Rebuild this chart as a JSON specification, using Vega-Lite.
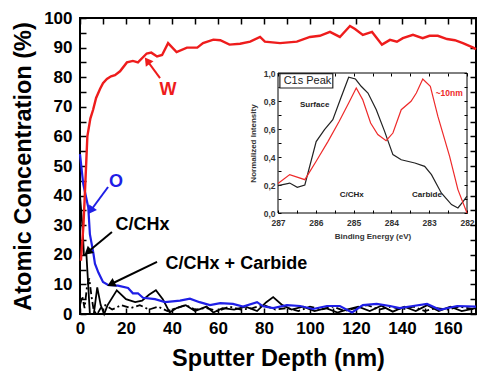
{
  "$schema": "https://vega.github.io/schema/vega-lite/v6.json",
  "width": 396,
  "height": 296,
  "autosize": "none",
  "padding": {"left": 80, "top": 18, "right": 1, "bottom": 58},
  "background": "white",
  "config": {
    "font": "Liberation Sans",
    "view": {"stroke": "black", "strokeWidth": 2},
    "axis": {"grid": false, "domain": false, "tickColor": "black", "labelColor": "black", "titleColor": "black"}
  },
  "datasets": {
    "profile": [
      {"series": "W", "depth": 0.4, "value": 18}, {"series": "W", "depth": 1.5, "value": 30}, {"series": "W", "depth": 2.2, "value": 42},
      {"series": "W", "depth": 3.2, "value": 60}, {"series": "W", "depth": 4.5, "value": 66}, {"series": "W", "depth": 5.7, "value": 69},
      {"series": "W", "depth": 7, "value": 73}, {"series": "W", "depth": 8.7, "value": 76}, {"series": "W", "depth": 10, "value": 78},
      {"series": "W", "depth": 11.7, "value": 79.4}, {"series": "W", "depth": 13.5, "value": 80.3}, {"series": "W", "depth": 15.2, "value": 80.7},
      {"series": "W", "depth": 17.4, "value": 82}, {"series": "W", "depth": 20.4, "value": 85}, {"series": "W", "depth": 23, "value": 85.5},
      {"series": "W", "depth": 25.2, "value": 85}, {"series": "W", "depth": 29, "value": 88}, {"series": "W", "depth": 31, "value": 88.3},
      {"series": "W", "depth": 33.5, "value": 87}, {"series": "W", "depth": 35.7, "value": 87.5}, {"series": "W", "depth": 38.3, "value": 91.5},
      {"series": "W", "depth": 42, "value": 88.5}, {"series": "W", "depth": 46.5, "value": 90}, {"series": "W", "depth": 51, "value": 90},
      {"series": "W", "depth": 53.5, "value": 91.5}, {"series": "W", "depth": 58, "value": 92.7}, {"series": "W", "depth": 61, "value": 92.5},
      {"series": "W", "depth": 65, "value": 91}, {"series": "W", "depth": 69.6, "value": 91.3}, {"series": "W", "depth": 74, "value": 92},
      {"series": "W", "depth": 78.3, "value": 93.6}, {"series": "W", "depth": 80.4, "value": 92}, {"series": "W", "depth": 87, "value": 91.5},
      {"series": "W", "depth": 94.3, "value": 92}, {"series": "W", "depth": 100, "value": 93.6}, {"series": "W", "depth": 104.3, "value": 94},
      {"series": "W", "depth": 108.7, "value": 95.3}, {"series": "W", "depth": 113, "value": 93.6}, {"series": "W", "depth": 117.4, "value": 97.3},
      {"series": "W", "depth": 119.6, "value": 96.3}, {"series": "W", "depth": 123, "value": 94.3}, {"series": "W", "depth": 127, "value": 95.3},
      {"series": "W", "depth": 131.3, "value": 91}, {"series": "W", "depth": 134.8, "value": 92.6}, {"series": "W", "depth": 137.8, "value": 92},
      {"series": "W", "depth": 140.4, "value": 93.2}, {"series": "W", "depth": 144.8, "value": 94.3}, {"series": "W", "depth": 149, "value": 93.2},
      {"series": "W", "depth": 152, "value": 94}, {"series": "W", "depth": 155.6, "value": 94}, {"series": "W", "depth": 159.6, "value": 92.9},
      {"series": "W", "depth": 163, "value": 92.5}, {"series": "W", "depth": 166.5, "value": 91.5}, {"series": "W", "depth": 171, "value": 90},
      {"series": "W", "depth": 172.2, "value": 89.5},

      {"series": "O", "depth": 0, "value": 54}, {"series": "O", "depth": 1.4, "value": 44}, {"series": "O", "depth": 3.6, "value": 36},
      {"series": "O", "depth": 4.3, "value": 27}, {"series": "O", "depth": 5.8, "value": 20.6}, {"series": "O", "depth": 6.5, "value": 17},
      {"series": "O", "depth": 8, "value": 14}, {"series": "O", "depth": 10, "value": 10.8}, {"series": "O", "depth": 12.2, "value": 9.8},
      {"series": "O", "depth": 16.5, "value": 9.6}, {"series": "O", "depth": 20.9, "value": 8.8}, {"series": "O", "depth": 23, "value": 7},
      {"series": "O", "depth": 25.2, "value": 7}, {"series": "O", "depth": 27.4, "value": 5.5}, {"series": "O", "depth": 32.6, "value": 5},
      {"series": "O", "depth": 37, "value": 4}, {"series": "O", "depth": 43.5, "value": 4.5}, {"series": "O", "depth": 47.8, "value": 5.2},
      {"series": "O", "depth": 52, "value": 4}, {"series": "O", "depth": 56.5, "value": 3}, {"series": "O", "depth": 61, "value": 3.7},
      {"series": "O", "depth": 66.5, "value": 3.4}, {"series": "O", "depth": 70.9, "value": 2.5}, {"series": "O", "depth": 77, "value": 4},
      {"series": "O", "depth": 79.6, "value": 2.6}, {"series": "O", "depth": 84, "value": 2}, {"series": "O", "depth": 90, "value": 3},
      {"series": "O", "depth": 95.7, "value": 2.7}, {"series": "O", "depth": 101.3, "value": 1.7}, {"series": "O", "depth": 107.4, "value": 2.7},
      {"series": "O", "depth": 113, "value": 2.7}, {"series": "O", "depth": 118.3, "value": 0.5}, {"series": "O", "depth": 123, "value": 3},
      {"series": "O", "depth": 129, "value": 3.4}, {"series": "O", "depth": 134.8, "value": 2.7}, {"series": "O", "depth": 139, "value": 2},
      {"series": "O", "depth": 144.8, "value": 2.7}, {"series": "O", "depth": 150.9, "value": 3.4}, {"series": "O", "depth": 156.5, "value": 1.4},
      {"series": "O", "depth": 164, "value": 2.7}, {"series": "O", "depth": 172.2, "value": 2.5},

      {"series": "C/CHx", "depth": 0, "value": 40}, {"series": "C/CHx", "depth": 1.2, "value": 28}, {"series": "C/CHx", "depth": 1.7, "value": 20},
      {"series": "C/CHx", "depth": 2.8, "value": 20}, {"series": "C/CHx", "depth": 4.3, "value": 0}, {"series": "C/CHx", "depth": 6, "value": 0},
      {"series": "C/CHx", "depth": 7.5, "value": 9}, {"series": "C/CHx", "depth": 9, "value": 3}, {"series": "C/CHx", "depth": 10.5, "value": 0},
      {"series": "C/CHx", "depth": 12, "value": 3}, {"series": "C/CHx", "depth": 16, "value": 8}, {"series": "C/CHx", "depth": 20, "value": 5},
      {"series": "C/CHx", "depth": 24, "value": 4}, {"series": "C/CHx", "depth": 27, "value": 4.5}, {"series": "C/CHx", "depth": 30, "value": 6.5},
      {"series": "C/CHx", "depth": 33, "value": 8}, {"series": "C/CHx", "depth": 36, "value": 5}, {"series": "C/CHx", "depth": 39, "value": 0.5},
      {"series": "C/CHx", "depth": 42, "value": 2}, {"series": "C/CHx", "depth": 46, "value": 3}, {"series": "C/CHx", "depth": 50, "value": 1},
      {"series": "C/CHx", "depth": 55, "value": 2.5}, {"series": "C/CHx", "depth": 58, "value": 0.5}, {"series": "C/CHx", "depth": 62, "value": 2},
      {"series": "C/CHx", "depth": 67, "value": 1.5}, {"series": "C/CHx", "depth": 72, "value": 2.5}, {"series": "C/CHx", "depth": 77, "value": 1},
      {"series": "C/CHx", "depth": 81, "value": 4}, {"series": "C/CHx", "depth": 84, "value": 5.7}, {"series": "C/CHx", "depth": 88, "value": 3},
      {"series": "C/CHx", "depth": 92, "value": 1.5}, {"series": "C/CHx", "depth": 97, "value": 2.5}, {"series": "C/CHx", "depth": 102, "value": 1},
      {"series": "C/CHx", "depth": 107, "value": 2}, {"series": "C/CHx", "depth": 112, "value": 0.5}, {"series": "C/CHx", "depth": 116, "value": 1.5},
      {"series": "C/CHx", "depth": 121, "value": 2.5}, {"series": "C/CHx", "depth": 126, "value": 1}, {"series": "C/CHx", "depth": 131, "value": 2.8},
      {"series": "C/CHx", "depth": 136, "value": 0.8}, {"series": "C/CHx", "depth": 141, "value": 2.5}, {"series": "C/CHx", "depth": 146, "value": 1},
      {"series": "C/CHx", "depth": 151, "value": 3}, {"series": "C/CHx", "depth": 156, "value": 1}, {"series": "C/CHx", "depth": 161, "value": 2.5},
      {"series": "C/CHx", "depth": 166, "value": 1}, {"series": "C/CHx", "depth": 172.2, "value": 2},

      {"series": "C/CHx + Carbide", "depth": 0, "value": 3}, {"series": "C/CHx + Carbide", "depth": 1, "value": 6}, {"series": "C/CHx + Carbide", "depth": 2, "value": 2},
      {"series": "C/CHx + Carbide", "depth": 3, "value": 9}, {"series": "C/CHx + Carbide", "depth": 4, "value": 12}, {"series": "C/CHx + Carbide", "depth": 5, "value": 6},
      {"series": "C/CHx + Carbide", "depth": 6, "value": 1}, {"series": "C/CHx + Carbide", "depth": 7.5, "value": 0}, {"series": "C/CHx + Carbide", "depth": 9, "value": 2},
      {"series": "C/CHx + Carbide", "depth": 11, "value": 3}, {"series": "C/CHx + Carbide", "depth": 14, "value": 1.5}, {"series": "C/CHx + Carbide", "depth": 18, "value": 3},
      {"series": "C/CHx + Carbide", "depth": 22, "value": 2}, {"series": "C/CHx + Carbide", "depth": 26, "value": 3}, {"series": "C/CHx + Carbide", "depth": 30, "value": 1.5},
      {"series": "C/CHx + Carbide", "depth": 34, "value": 2.5}, {"series": "C/CHx + Carbide", "depth": 38, "value": 1}, {"series": "C/CHx + Carbide", "depth": 42, "value": 2},
      {"series": "C/CHx + Carbide", "depth": 46, "value": 3}, {"series": "C/CHx + Carbide", "depth": 50, "value": 1.5}, {"series": "C/CHx + Carbide", "depth": 55, "value": 2},
      {"series": "C/CHx + Carbide", "depth": 60, "value": 1}, {"series": "C/CHx + Carbide", "depth": 65, "value": 2.5}, {"series": "C/CHx + Carbide", "depth": 70, "value": 1.5},
      {"series": "C/CHx + Carbide", "depth": 75, "value": 2}, {"series": "C/CHx + Carbide", "depth": 80, "value": 3}, {"series": "C/CHx + Carbide", "depth": 85, "value": 1.5},
      {"series": "C/CHx + Carbide", "depth": 90, "value": 2}, {"series": "C/CHx + Carbide", "depth": 95, "value": 1}, {"series": "C/CHx + Carbide", "depth": 100, "value": 2.5},
      {"series": "C/CHx + Carbide", "depth": 105, "value": 1.5}, {"series": "C/CHx + Carbide", "depth": 110, "value": 2.5}, {"series": "C/CHx + Carbide", "depth": 115, "value": 1},
      {"series": "C/CHx + Carbide", "depth": 120, "value": 2}, {"series": "C/CHx + Carbide", "depth": 125, "value": 3}, {"series": "C/CHx + Carbide", "depth": 130, "value": 1.5},
      {"series": "C/CHx + Carbide", "depth": 135, "value": 2.5}, {"series": "C/CHx + Carbide", "depth": 140, "value": 1.5}, {"series": "C/CHx + Carbide", "depth": 145, "value": 2.5},
      {"series": "C/CHx + Carbide", "depth": 150, "value": 1}, {"series": "C/CHx + Carbide", "depth": 155, "value": 2}, {"series": "C/CHx + Carbide", "depth": 160, "value": 1.5},
      {"series": "C/CHx + Carbide", "depth": 165, "value": 2.5}, {"series": "C/CHx + Carbide", "depth": 172.2, "value": 1.5}
    ],
    "profile_notes": [
      {"label": "W", "depth": 38.3, "value": 75.7},
      {"label": "O", "depth": 15.7, "value": 44.6},
      {"label": "C/CHx", "depth": 27.2, "value": 30},
      {"label": "C/CHx + Carbide", "depth": 68, "value": 16.9}
    ],
    "arrows": [
      {"label": "W", "depth": 34.8, "value": 79.7, "tip_depth": 29.6, "tip_value": 85.2},
      {"label": "O", "depth": 12.2, "value": 42.9, "tip_depth": 5, "tip_value": 35.3},
      {"label": "C/CHx", "depth": 13.9, "value": 27.7, "tip_depth": 3.8, "tip_value": 21.2},
      {"label": "C/CHx + Carbide", "depth": 33.5, "value": 17.6, "tip_depth": 14, "tip_value": 10.3}
    ],
    "xps": [
      {"spectrum": "Surface", "energy": 287, "intensity": 0.195}, {"spectrum": "Surface", "energy": 286.69, "intensity": 0.214},
      {"spectrum": "Surface", "energy": 286.49, "intensity": 0.183}, {"spectrum": "Surface", "energy": 286.29, "intensity": 0.2},
      {"spectrum": "Surface", "energy": 285.99, "intensity": 0.51}, {"spectrum": "Surface", "energy": 285.77, "intensity": 0.595},
      {"spectrum": "Surface", "energy": 285.55, "intensity": 0.667}, {"spectrum": "Surface", "energy": 285.34, "intensity": 0.82},
      {"spectrum": "Surface", "energy": 285.13, "intensity": 0.97}, {"spectrum": "Surface", "energy": 284.95, "intensity": 0.957},
      {"spectrum": "Surface", "energy": 284.8, "intensity": 0.905}, {"spectrum": "Surface", "energy": 284.62, "intensity": 0.857},
      {"spectrum": "Surface", "energy": 284.4, "intensity": 0.738}, {"spectrum": "Surface", "energy": 284.18, "intensity": 0.583},
      {"spectrum": "Surface", "energy": 283.96, "intensity": 0.417}, {"spectrum": "Surface", "energy": 283.74, "intensity": 0.38},
      {"spectrum": "Surface", "energy": 283.38, "intensity": 0.357}, {"spectrum": "Surface", "energy": 283.12, "intensity": 0.333},
      {"spectrum": "Surface", "energy": 282.94, "intensity": 0.274}, {"spectrum": "Surface", "energy": 282.68, "intensity": 0.143},
      {"spectrum": "Surface", "energy": 282.41, "intensity": 0.06}, {"spectrum": "Surface", "energy": 282.24, "intensity": 0.036},
      {"spectrum": "Surface", "energy": 282.1, "intensity": 0.083}, {"spectrum": "Surface", "energy": 282, "intensity": 0.12},

      {"spectrum": "~10nm", "energy": 287, "intensity": 0.21}, {"spectrum": "~10nm", "energy": 286.69, "intensity": 0.274},
      {"spectrum": "~10nm", "energy": 286.29, "intensity": 0.238}, {"spectrum": "~10nm", "energy": 285.99, "intensity": 0.37},
      {"spectrum": "~10nm", "energy": 285.68, "intensity": 0.51}, {"spectrum": "~10nm", "energy": 285.38, "intensity": 0.655},
      {"spectrum": "~10nm", "energy": 285.13, "intensity": 0.786}, {"spectrum": "~10nm", "energy": 284.93, "intensity": 0.893},
      {"spectrum": "~10nm", "energy": 284.76, "intensity": 0.81}, {"spectrum": "~10nm", "energy": 284.55, "intensity": 0.643},
      {"spectrum": "~10nm", "energy": 284.36, "intensity": 0.56}, {"spectrum": "~10nm", "energy": 284.14, "intensity": 0.517},
      {"spectrum": "~10nm", "energy": 283.96, "intensity": 0.571}, {"spectrum": "~10nm", "energy": 283.74, "intensity": 0.738},
      {"spectrum": "~10nm", "energy": 283.48, "intensity": 0.798}, {"spectrum": "~10nm", "energy": 283.34, "intensity": 0.857},
      {"spectrum": "~10nm", "energy": 283.17, "intensity": 0.957}, {"spectrum": "~10nm", "energy": 282.97, "intensity": 0.905},
      {"spectrum": "~10nm", "energy": 282.77, "intensity": 0.69}, {"spectrum": "~10nm", "energy": 282.46, "intensity": 0.405},
      {"spectrum": "~10nm", "energy": 282.24, "intensity": 0.167}, {"spectrum": "~10nm", "energy": 282, "intensity": 0}
    ],
    "xps_notes": [
      {"label": "Surface", "energy": 286.03, "intensity": 0.77},
      {"label": "~10nm", "energy": 282.47, "intensity": 0.857},
      {"label": "C/CHx", "energy": 285.05, "intensity": 0.13},
      {"label": "Carbide", "energy": 283.06, "intensity": 0.13},
      {"label": "C1s Peak", "energy": 286.22, "intensity": 0.945}
    ],
    "inset_frame": [
      {"box": "panel", "e1": 287, "e2": 282, "i1": 0, "i2": 1},
      {"box": "title", "e1": 286.95, "e2": 285.55, "i1": 0.893, "i2": 0.995}
    ]
  },
  "layer": [
    {
      "layer": [
        {
          "data": {"name": "profile"},
          "transform": [{"filter": "datum.series === 'C/CHx + Carbide'"}],
          "mark": {"type": "line", "color": "black", "strokeWidth": 1.8, "strokeDash": [7, 3, 2, 3]},
          "encoding": {
            "x": {"field": "depth", "type": "quantitative", "scale": {"domain": [0, 172.2], "nice": false, "zero": false}, "axis": null},
            "y": {"field": "value", "type": "quantitative", "scale": {"domain": [0, 100], "nice": false, "zero": false}, "axis": null}
          }
        },
        {
          "data": {"name": "profile"},
          "transform": [{"filter": "datum.series === 'C/CHx'"}],
          "mark": {"type": "line", "color": "black", "strokeWidth": 1.8},
          "encoding": {
            "x": {"field": "depth", "type": "quantitative", "scale": {"domain": [0, 172.2], "nice": false, "zero": false}, "axis": null},
            "y": {"field": "value", "type": "quantitative", "scale": {"domain": [0, 100], "nice": false, "zero": false}, "axis": null}
          }
        },
        {
          "data": {"name": "profile"},
          "transform": [{"filter": "datum.series === 'O'"}],
          "mark": {"type": "line", "color": "#1f1fe6", "strokeWidth": 2.2},
          "encoding": {
            "x": {"field": "depth", "type": "quantitative", "scale": {"domain": [0, 172.2], "nice": false, "zero": false},
              "axis": {"orient": "top", "values": [0, 10, 20, 30, 40, 50, 60, 70, 80, 90, 100, 110, 120, 130, 140, 150, 160, 170], "labels": false, "title": null, "tickSize": -6, "tickWidth": 1.5}},
            "y": {"field": "value", "type": "quantitative", "scale": {"domain": [0, 100], "nice": false, "zero": false},
              "axis": {"orient": "right", "values": [0, 5, 10, 15, 20, 25, 30, 35, 40, 45, 50, 55, 60, 65, 70, 75, 80, 85, 90, 95, 100], "labels": false, "title": null, "tickSize": -6, "tickWidth": 1.5}}
          }
        },
        {
          "data": {"name": "profile"},
          "transform": [{"filter": "datum.series === 'W'"}],
          "mark": {"type": "line", "color": "#ee1c1c", "strokeWidth": 2.4},
          "encoding": {
            "x": {"field": "depth", "type": "quantitative", "scale": {"domain": [0, 172.2], "nice": false, "zero": false},
              "axis": {"orient": "bottom", "values": [0, 10, 20, 30, 40, 50, 60, 70, 80, 90, 100, 110, 120, 130, 140, 150, 160, 170],
                "labelExpr": "datum.value % 20 === 0 ? datum.label : ''", "tickSize": -6, "tickWidth": 1.5,
                "labelFontSize": 17, "labelFontWeight": "bold", "labelPadding": 12, "labelFlush": false, "labelOverlap": false,
                "title": "Sputter Depth (nm)", "titleFontSize": 23.5, "titleFontWeight": "bold", "titlePadding": 10}},
            "y": {"field": "value", "type": "quantitative", "scale": {"domain": [0, 100], "nice": false, "zero": false},
              "axis": {"orient": "left", "values": [0, 5, 10, 15, 20, 25, 30, 35, 40, 45, 50, 55, 60, 65, 70, 75, 80, 85, 90, 95, 100],
                "labelExpr": "datum.value % 10 === 0 ? datum.label : ''", "tickSize": -6, "tickWidth": 1.5,
                "labelFontSize": 17, "labelFontWeight": "bold", "labelPadding": 14, "labelFlush": false, "labelOverlap": false,
                "title": "Atomic Concentration (%)", "titleFontSize": 23.5, "titleFontWeight": "bold", "titlePadding": 8}}
          }
        },
        {
          "data": {"name": "arrows"},
          "mark": {"type": "rule", "strokeWidth": 2},
          "encoding": {
            "x": {"field": "depth", "type": "quantitative", "axis": null},
            "y": {"field": "value", "type": "quantitative", "axis": null},
            "x2": {"field": "tip_depth"},
            "y2": {"field": "tip_value"},
            "color": {"field": "label", "type": "nominal", "legend": null,
              "scale": {"domain": ["W", "O", "C/CHx", "C/CHx + Carbide"], "range": ["#ee1c1c", "#1f1fe6", "black", "black"]}}
          }
        },
        {
          "data": {"name": "arrows"},
          "transform": [{"filter": "datum.label === 'W'"}],
          "mark": {"type": "point", "shape": "triangle", "filled": true, "opacity": 1, "size": 90, "angle": 324},
          "encoding": {
            "x": {"field": "tip_depth", "type": "quantitative", "axis": null},
            "y": {"field": "tip_value", "type": "quantitative", "axis": null},
            "color": {"field": "label", "type": "nominal", "legend": null}
          }
        },
        {
          "data": {"name": "arrows"},
          "transform": [{"filter": "datum.label === 'O'"}],
          "mark": {"type": "point", "shape": "triangle", "filled": true, "opacity": 1, "size": 90, "angle": 216},
          "encoding": {
            "x": {"field": "tip_depth", "type": "quantitative", "axis": null},
            "y": {"field": "tip_value", "type": "quantitative", "axis": null},
            "color": {"field": "label", "type": "nominal", "legend": null}
          }
        },
        {
          "data": {"name": "arrows"},
          "transform": [{"filter": "datum.label === 'C/CHx'"}],
          "mark": {"type": "point", "shape": "triangle", "filled": true, "opacity": 1, "size": 90, "angle": 230},
          "encoding": {
            "x": {"field": "tip_depth", "type": "quantitative", "axis": null},
            "y": {"field": "tip_value", "type": "quantitative", "axis": null},
            "color": {"field": "label", "type": "nominal", "legend": null}
          }
        },
        {
          "data": {"name": "arrows"},
          "transform": [{"filter": "datum.label === 'C/CHx + Carbide'"}],
          "mark": {"type": "point", "shape": "triangle", "filled": true, "opacity": 1, "size": 90, "angle": 244},
          "encoding": {
            "x": {"field": "tip_depth", "type": "quantitative", "axis": null},
            "y": {"field": "tip_value", "type": "quantitative", "axis": null},
            "color": {"field": "label", "type": "nominal", "legend": null}
          }
        },
        {
          "data": {"name": "profile_notes"},
          "mark": {"type": "text", "fontSize": 18, "fontWeight": "bold", "align": "center", "baseline": "middle"},
          "encoding": {
            "x": {"field": "depth", "type": "quantitative", "axis": null},
            "y": {"field": "value", "type": "quantitative", "axis": null},
            "text": {"field": "label"},
            "color": {"field": "label", "type": "nominal", "legend": null}
          }
        }
      ],
      "resolve": {"axis": {"x": "independent", "y": "independent"}}
    },
    {
      "layer": [
        {
          "data": {"name": "inset_frame"},
          "transform": [{"filter": "datum.box === 'panel'"}],
          "mark": {"type": "rect", "fill": "white", "fillOpacity": 0, "stroke": "black", "strokeWidth": 1},
          "encoding": {
            "x": {"field": "e1", "type": "quantitative", "scale": {"domain": [282, 287], "reverse": true, "range": [198, 387], "nice": false, "zero": false}, "axis": null},
            "x2": {"field": "e2"},
            "y": {"field": "i1", "type": "quantitative", "scale": {"domain": [0, 1], "range": [195, 55], "nice": false, "zero": false}, "axis": null},
            "y2": {"field": "i2"}
          }
        },
        {
          "data": {"name": "inset_frame"},
          "transform": [{"filter": "datum.box === 'title'"}],
          "mark": {"type": "rect", "fill": "white", "stroke": "#222", "strokeWidth": 1.2},
          "encoding": {
            "x": {"field": "e1", "type": "quantitative", "axis": null},
            "x2": {"field": "e2"},
            "y": {"field": "i1", "type": "quantitative", "axis": null},
            "y2": {"field": "i2"}
          }
        },
        {
          "data": {"name": "xps"},
          "transform": [{"filter": "datum.spectrum === 'Surface'"}],
          "mark": {"type": "line", "color": "#222", "strokeWidth": 1.2},
          "encoding": {
            "x": {"field": "energy", "type": "quantitative", "scale": {"domain": [282, 287], "reverse": true, "range": [198, 387], "nice": false, "zero": false},
              "axis": {"orient": "bottom", "offset": -101, "values": [282, 282.5, 283, 283.5, 284, 284.5, 285, 285.5, 286, 286.5, 287],
                "labelExpr": "datum.value % 1 === 0 ? format(datum.value, 'd') : ''", "tickSize": -3, "tickWidth": 1,
                "labelFontSize": 8.5, "labelFontWeight": "bold", "labelColor": "#333", "labelPadding": 8, "labelFlush": false, "labelOverlap": false,
                "title": "Binding Energy (eV)", "titleFontSize": 8, "titleFontWeight": "bold", "titleColor": "#333", "titlePadding": 6}},
            "y": {"field": "intensity", "type": "quantitative", "scale": {"domain": [0, 1], "range": [195, 55], "nice": false, "zero": false},
              "axis": {"orient": "left", "offset": -198, "values": [0, 0.1, 0.2, 0.3, 0.4, 0.5, 0.6, 0.7, 0.8, 0.9, 1],
                "labelExpr": "round(datum.value * 10) % 2 === 0 ? replace(format(datum.value, '.1f'), '.', ',') : ''", "tickSize": -3, "tickWidth": 1,
                "labelFontSize": 8.5, "labelFontWeight": "bold", "labelColor": "#333", "labelPadding": 6, "labelFlush": false, "labelOverlap": false,
                "title": "Normalized Intensity", "titleFontSize": 8, "titleFontWeight": "bold", "titleColor": "#333", "titlePadding": 6}}
          }
        },
        {
          "data": {"name": "xps"},
          "transform": [{"filter": "datum.spectrum === '~10nm'"}],
          "mark": {"type": "line", "color": "#ee2a2a", "strokeWidth": 1.2},
          "encoding": {
            "x": {"field": "energy", "type": "quantitative",
              "axis": {"orient": "top", "offset": -55, "values": [282, 282.5, 283, 283.5, 284, 284.5, 285, 285.5, 286, 286.5, 287], "labels": false, "title": null, "tickSize": -3, "tickWidth": 1}},
            "y": {"field": "intensity", "type": "quantitative",
              "axis": {"orient": "right", "offset": -9, "values": [0, 0.1, 0.2, 0.3, 0.4, 0.5, 0.6, 0.7, 0.8, 0.9, 1], "labels": false, "title": null, "tickSize": -3, "tickWidth": 1}}
          }
        },
        {
          "data": {"name": "xps_notes"},
          "transform": [{"filter": "datum.label !== '~10nm' && datum.label !== 'C1s Peak'"}],
          "mark": {"type": "text", "fontSize": 8, "fontWeight": "bold", "color": "#222", "align": "center", "baseline": "middle"},
          "encoding": {
            "x": {"field": "energy", "type": "quantitative", "axis": null},
            "y": {"field": "intensity", "type": "quantitative", "axis": null},
            "text": {"field": "label"}
          }
        },
        {
          "data": {"name": "xps_notes"},
          "transform": [{"filter": "datum.label === '~10nm'"}],
          "mark": {"type": "text", "fontSize": 8.5, "fontWeight": "bold", "color": "#ee2a2a", "align": "center", "baseline": "middle"},
          "encoding": {
            "x": {"field": "energy", "type": "quantitative", "axis": null},
            "y": {"field": "intensity", "type": "quantitative", "axis": null},
            "text": {"field": "label"}
          }
        },
        {
          "data": {"name": "xps_notes"},
          "transform": [{"filter": "datum.label === 'C1s Peak'"}],
          "mark": {"type": "text", "fontSize": 11, "color": "#222", "align": "center", "baseline": "middle"},
          "encoding": {
            "x": {"field": "energy", "type": "quantitative", "axis": null},
            "y": {"field": "intensity", "type": "quantitative", "axis": null},
            "text": {"field": "label"}
          }
        }
      ],
      "resolve": {"axis": {"x": "independent", "y": "independent"}}
    }
  ],
  "resolve": {
    "scale": {"x": "independent", "y": "independent", "color": "independent"},
    "axis": {"x": "independent", "y": "independent"}
  }
}
